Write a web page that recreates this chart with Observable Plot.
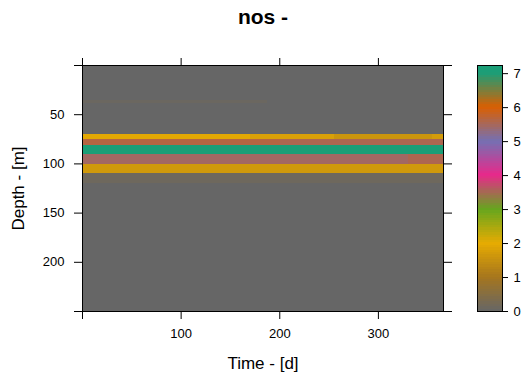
<!DOCTYPE html>
<html>
<head>
<meta charset="utf-8">
<script src="https://cdn.jsdelivr.net/npm/d3@7"></script>
<script src="https://cdn.jsdelivr.net/npm/@observablehq/plot@0.6"></script>
<style>
  html, body { margin: 0; padding: 0; background: #ffffff; }
  #chart { display: flex; width: 523px; height: 376px; }
  #chart svg { flex: none; }
</style>
</head>
<body>
<div id="chart"></div>
<script>
// Extent of the depth/time grid; everything outside the layers below is 0
const timeRange = [0, 366];
const depthRange = [0, 250];
const baseValue = 0;

// Depth layers (m): top, bottom, time breaks (d) and the value in each time segment
const layerTop    = [35.2, 70.4, 75.0, 81.5, 90.5, 100.2, 110.0];
const layerBottom = [38.6, 75.0, 81.5, 90.5, 100.2, 110.0, 120.0];
const layerBreaks = [
  [0, 188],
  [0, 170, 255, 355, 366],
  [0, 201, 366],
  [0, 366],
  [0, 331, 366],
  [0, 366],
  [0, 366]
];
const layerValues = [
  [0.08],
  [1.95, 1.8, 1.58, 1.72],
  [5.64, 5.56],
  [7],
  [5.45, 5.56],
  [1.66],
  [0.12]
];

// Colour ramp (reversed Dark2) and tick positions
const paletteLevels = [0, 1, 2, 3, 4, 5, 6, 7];
const palette = ["#666666", "#A6761D", "#E6AB02", "#66A61E", "#E7298A", "#7570B3", "#D95F02", "#1B9E77"];
const xTicks = [0, 100, 200, 300];
const yTicks = [0, 50, 100, 150, 200, 250];
const keyTicks = [0, 1, 2, 3, 4, 5, 6, 7];
const keyMax = 7.24;

const font = '"Liberation Sans", Arial, Helvetica, sans-serif';

// Flatten layers into rectangles
const cells = [{t0: timeRange[0], t1: timeRange[1], d0: depthRange[0], d1: depthRange[1], value: baseValue}];
layerTop.forEach((top, i) => {
  const br = layerBreaks[i];
  layerValues[i].forEach((v, j) => {
    cells.push({t0: br[j], t1: br[j + 1], d0: top, d1: layerBottom[i], value: v});
  });
});

const colorOpts = {type: "linear", domain: paletteLevels, range: palette, interpolate: "rgb", clamp: true};

const main = Plot.plot({
  width: 460,
  height: 376,
  marginLeft: 82,
  marginRight: 17,
  marginTop: 65,
  marginBottom: 65,
  style: {fontFamily: font, fontSize: "13px", color: "black", background: "transparent", overflow: "visible"},
  x: {domain: timeRange},
  y: {domain: depthRange, reverse: true},
  color: colorOpts,
  marks: [
    Plot.rect(cells, {x1: "t0", x2: "t1", y1: "d0", y2: "d1", fill: "value", shapeRendering: "crispEdges"}),
    Plot.frame({stroke: "black"}),
    Plot.axisX({anchor: "bottom", ticks: xTicks, tickSize: 8, tickPadding: 9, tickFormat: d => d === 0 ? "" : String(d), label: null}),
    Plot.axisX({anchor: "top", ticks: xTicks, tickSize: 8, tickFormat: () => "", label: null}),
    Plot.axisY({anchor: "left", ticks: yTicks, tickSize: 8, tickPadding: 10, tickFormat: d => (d === 0 || d === 250) ? "" : String(d), label: null}),
    Plot.axisY({anchor: "right", ticks: yTicks, tickSize: 8, tickFormat: () => "", label: null}),
    Plot.text(["nos -"], {text: d => d, frameAnchor: "top", dy: -48, lineAnchor: "middle", textAnchor: "middle", fontSize: 21, fontWeight: "bold"}),
    Plot.text(["Time - [d]"], {text: d => d, frameAnchor: "bottom", dy: 52, lineAnchor: "middle", textAnchor: "middle", fontSize: 17}),
    Plot.text(["Depth - [m]"], {text: d => d, frameAnchor: "left", dx: -64, rotate: -90, lineAnchor: "middle", textAnchor: "middle", fontSize: 17})
  ]
});

// Colour key: the ramp split into 100 regions
const keySteps = d3.range(100).map(i => ({v0: i * keyMax / 100, v1: (i + 1) * keyMax / 100}));

const key = Plot.plot({
  width: 63,
  height: 376,
  marginLeft: 17,
  marginRight: 21,
  marginTop: 65,
  marginBottom: 65,
  style: {fontFamily: font, fontSize: "13px", color: "black", background: "transparent", overflow: "visible"},
  x: {domain: [0, 1], axis: null},
  y: {domain: [0, keyMax]},
  color: colorOpts,
  marks: [
    Plot.rect(keySteps, {x1: d => 0, x2: d => 1, y1: "v0", y2: "v1", fill: d => (d.v0 + d.v1) / 2, shapeRendering: "crispEdges"}),
    Plot.frame({stroke: "black"}),
    Plot.axisY({anchor: "right", ticks: keyTicks, tickSize: 5, tickPadding: 6, label: null})
  ]
});

document.getElementById("chart").append(main, key);
</script>
</body>
</html>
